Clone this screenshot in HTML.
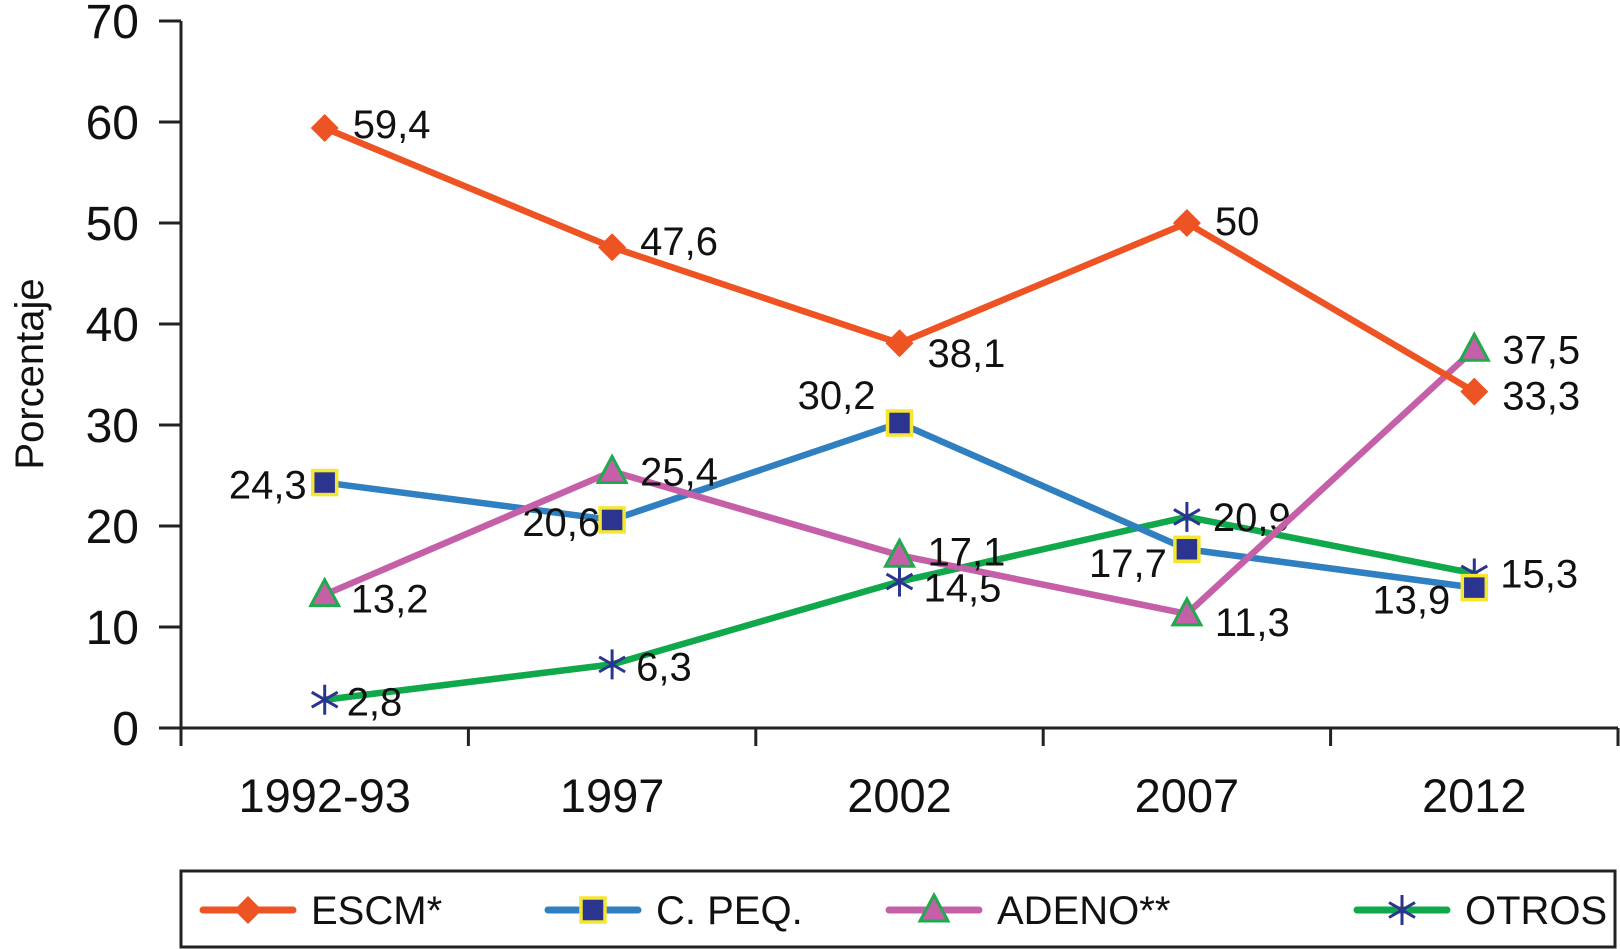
<!DOCTYPE html>
<html><head><meta charset="utf-8"><style>
html,body{margin:0;padding:0;background:#fff;}
svg{display:block;font-family:"Liberation Sans",Arial,sans-serif;}
</style></head><body>
<svg id="chart" width="1620" height="949" viewBox="0 0 1620 949"></svg>
<script>
const categories=["1992-93","1997","2002","2007","2012"];
const escm=[59.4,47.6,38.1,50,33.3];
const cpeq=[24.3,20.6,30.2,17.7,13.9];
const adeno=[13.2,25.4,17.1,11.3,37.5];
const otros=[2.8,6.3,14.5,20.9,15.3];
const escmLabels=["59,4","47,6","38,1","50","33,3"];
const cpeqLabels=["24,3","20,6","30,2","17,7","13,9"];
const adenoLabels=["13,2","25,4","17,1","11,3","37,5"];
const otrosLabels=["2,8","6,3","14,5","20,9","15,3"];
const yTicks=[0,10,20,30,40,50,60,70];

const svg=document.getElementById('chart');
const NS='http://www.w3.org/2000/svg';
const X0=181,X1=1618,Y0=728,Y70=21;
const step=(X1-X0)/categories.length;
const xS=i=>X0+step*(i+0.5);
const yS=v=>Y0-(Y0-Y70)*v/70;
function mk(tag,attrs,parent){const e=document.createElementNS(NS,tag);for(const k in attrs)e.setAttribute(k,attrs[k]);(parent||svg).appendChild(e);return e;}
function txt(x,y,s,size,anchor,name){const t=mk('text',{x:x,y:y,'font-size':size,'text-anchor':anchor||'start',fill:'#111'});t.textContent=s;


return t;}

const ax=mk('g',{});


mk('line',{x1:X0,y1:Y70,x2:X0,y2:Y0,stroke:'#222','stroke-width':3},ax);
mk('line',{x1:X0-22,y1:Y0,x2:X1,y2:Y0,stroke:'#222','stroke-width':3},ax);
yTicks.forEach(v=>{mk('line',{x1:X0-22,y1:yS(v),x2:X0,y2:yS(v),stroke:'#222','stroke-width':3},ax);
 txt(X0-42,yS(v)+17,String(v),48,'end','y-tick-label');});
for(let i=0;i<=categories.length;i++){mk('line',{x1:X0+step*i,y1:Y0,x2:X0+step*i,y2:Y0+18,stroke:'#222','stroke-width':3},ax);}
categories.forEach((c,i)=>txt(xS(i),812,c,47,'middle','x-tick-label'));
const yt=txt(0,0,'Porcentaje',40,'middle','y-axis-title');
yt.setAttribute('transform','translate(43,374) rotate(-90)');

function marker(kind,x,y,g){
 if(kind==='diamond'){mk('polygon',{points:`${x},${y-14} ${x+14},${y} ${x},${y+14} ${x-14},${y}`,fill:'#ee5324'},g);}
 else if(kind==='square'){mk('rect',{x:x-12,y:y-12,width:24,height:24,fill:'#2b3590',stroke:'#f5e630','stroke-width':3.5},g);}
 else if(kind==='triangle'){mk('polygon',{points:`${x},${y-15} ${x+14},${y+11} ${x-14},${y+11}`,fill:'#c560a8',stroke:'#1faa4e','stroke-width':3},g);}
 else{[0,60,120].forEach(a=>{const r=15,rad=a*Math.PI/180+Math.PI/2;mk('line',{x1:x-r*Math.cos(rad),y1:y-r*Math.sin(rad),x2:x+r*Math.cos(rad),y2:y+r*Math.sin(rad),stroke:'#2b3590','stroke-width':3},g);});}
}
const series=[
 {name:'otros',vals:otros,labs:otrosLabels,color:'#0fa84a',mk:'star',off:[[22,2,'start'],[24,2,'start'],[24,6,'start'],[26,0,'start'],[26,0,'start']]},
 {name:'cpeq',vals:cpeq,labs:cpeqLabels,color:'#2f7fc1',mk:'square',off:[[-18,2,'end'],[-12,2,'end'],[-24,-28,'end'],[-20,14,'end'],[-24,12,'end']]},
 {name:'adeno',vals:adeno,labs:adenoLabels,color:'#c560a8',mk:'triangle',off:[[26,4,'start'],[28,0,'start'],[28,-4,'start'],[28,8,'start'],[28,0,'start']]},
 {name:'escm',vals:escm,labs:escmLabels,color:'#ee5324',mk:'diamond',off:[[28,-4,'start'],[28,-6,'start'],[28,10,'start'],[28,-2,'start'],[28,4,'start']]}
];
series.forEach(s=>{
 const g=mk('g',{});
 
 
 mk('polyline',{points:s.vals.map((v,i)=>xS(i)+','+yS(v)).join(' '),fill:'none',stroke:s.color,'stroke-width':6.5,'stroke-linejoin':'round'},g);
 s.vals.forEach((v,i)=>{const p=mk('g',{},g);
  
  
  marker(s.mk,xS(i),yS(v),p);});
 s.vals.forEach((v,i)=>{const t=txt(xS(i)+s.off[i][0],yS(v)+s.off[i][1]+14,s.labs[i],40,s.off[i][2],'value-label');g.appendChild(t);});
});

const lg=mk('g',{});


mk('rect',{x:181,y:871,width:1434,height:76,fill:'#fff',stroke:'#222','stroke-width':3},lg);
const items=[['ESCM*','#ee5324','diamond',203],['C. PEQ.','#2f7fc1','square',548],['ADENO**','#c560a8','triangle',889],['OTROS','#0fa84a','star',1357]];
items.forEach(it=>{const e=mk('g',{},lg);
 
 
 mk('line',{x1:it[3],y1:910,x2:it[3]+90,y2:910,stroke:it[1],'stroke-width':7,'stroke-linecap':'round'},e);
 marker(it[2],it[3]+45,910,e);
 const t=txt(it[3]+108,924,it[0],40,'start','legend-label');e.appendChild(t);});
</script>
</body></html>
